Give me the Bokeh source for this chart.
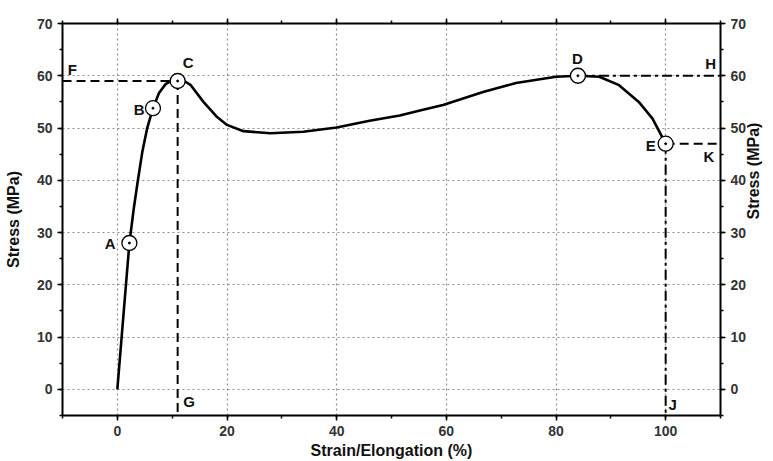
import math
from bokeh.plotting import figure
from bokeh.models import (Range1d, LinearAxis, SingleIntervalTicker, ColumnDataSource,
                          CustomJSTickFormatter)
from bokeh.embed import file_html
from bokeh.resources import INLINE
from bokeh.core.properties import value

# ---- data ----
strain = [0, 2.2, 3.0, 3.75, 4.55, 5.45, 6.5, 7.6, 8.8, 10.0, 11.0,
          12.2, 13.4, 15.7, 18.2, 20.0, 23.0, 27.9, 33.9, 40.0, 46.0, 51.5, 55.0,
          59.4, 66.7, 72.7, 80.0, 84.0, 87.9, 91.5, 95.1, 97.6, 100.0]
stress = [0, 28, 34.6, 40, 45.4, 50, 53.8, 56.7, 58.4, 59.1, 59.3,
          59.0, 58.2, 55.0, 52.1, 50.6, 49.4, 49.0, 49.3, 50.1, 51.4, 52.4, 53.3,
          54.4, 56.9, 58.6, 59.8, 60.0, 59.8, 58.2, 55.0, 51.8, 47.0]

pt_names = ["A", "B", "C", "D", "E"]
pt_strain = [2.2, 6.5, 11.0, 84.0, 100.0]
pt_stress = [28.0, 53.8, 59.0, 60.0, 47.0]

x_ticks_major = 20
y_ticks_major = 10
x_min, x_max = -10, 110
y_min, y_max = -5, 70

# label anchor positions (data units)
lbl_text = ["A", "B", "C", "D", "E", "F", "G", "H", "J", "K"]
lbl_x = [-1.3, 4.0, 12.9, 83.9, 97.3, -8.2, 13.1, 108.2, 101.3, 107.9]
lbl_y = [27.9, 53.6, 62.6, 63.3, 46.7, 61.2, -2.3, 62.4, -2.9, 44.6]

FONT = "Liberation Sans"

p = figure(width=773, height=461, output_backend="svg", toolbar_location=None,
           x_range=Range1d(x_min, x_max), y_range=Range1d(y_min, y_max),
           min_border_left=62, min_border_right=51, min_border_top=23,
           min_border_bottom=46, background_fill_color="white",
           border_fill_color="white")
p.outline_line_color = None

xt = SingleIntervalTicker(interval=x_ticks_major, num_minor_ticks=2)
yt = SingleIntervalTicker(interval=y_ticks_major, num_minor_ticks=2)


def style_axis(ax, show_labels=True):
    ax.axis_line_width = 2
    ax.axis_line_color = "black"
    ax.major_tick_line_width = 1.5
    ax.major_tick_line_color = "black"
    ax.minor_tick_line_width = 1.5
    ax.minor_tick_line_color = "black"
    ax.major_tick_in = 0
    ax.major_tick_out = 5
    ax.minor_tick_in = 0
    ax.minor_tick_out = 3
    ax.major_label_text_font = FONT
    ax.major_label_text_font_style = "bold"
    ax.major_label_text_color = "#333333"
    ax.major_label_text_font_size = "14px"
    ax.major_label_standoff = 5 if show_labels else 0
    ax.axis_label_text_font = FONT
    ax.axis_label_text_font_style = "bold"
    ax.axis_label_text_font_size = "16px"
    ax.axis_label_text_color = "#111111"


p.xaxis.ticker = xt
p.yaxis.ticker = yt
p.xaxis.axis_label = "Strain/Elongation (%)"
p.yaxis.axis_label = "Stress (MPa)"
style_axis(p.xaxis[0])
style_axis(p.yaxis[0])
p.xaxis.axis_label_standoff = 3
p.yaxis.axis_label_standoff = 12

top_ax = LinearAxis(ticker=xt, formatter=CustomJSTickFormatter(code="return ''"))
style_axis(top_ax, show_labels=False)
p.add_layout(top_ax, "above")

right_ax = LinearAxis(ticker=yt, axis_label="Stress (MPa)")
style_axis(right_ax)
right_ax.major_label_standoff = 5
right_ax.axis_label_standoff = 4
right_ax.axis_label_orientation = math.pi / 2
p.add_layout(right_ax, "right")

for g in (p.xgrid, p.ygrid):
    g.grid_line_color = "#8c8c8c"
    g.grid_line_dash = "2 3"
    g.grid_line_width = 1.2
p.xgrid.ticker = xt
p.ygrid.ticker = yt

# reference lines
xC, yC = pt_strain[2], pt_stress[2]
xD, yD = pt_strain[3], pt_stress[3]
xE, yE = pt_strain[4], pt_stress[4]
p.line([x_min, xC], [yC, yC], line_color="black", line_width=2, line_dash="9 5")
p.line([xC, xC], [yC, y_min], line_color="black", line_width=2, line_dash="9 5")
p.line([xD, x_max], [yD, yD], line_color="black", line_width=2, line_dash="10 4 3 4")
p.line([xE, x_max], [yE, yE], line_color="black", line_width=2, line_dash="9 5")
p.line([xE, xE], [yE, y_min], line_color="black", line_width=2, line_dash="10 4 3 4")

# curve
p.line(strain, stress, line_color="black", line_width=2.6, line_join="round")

# markers
src = ColumnDataSource(dict(x=pt_strain, y=pt_stress, name=pt_names))
p.scatter("x", "y", source=src, size=15, fill_color="white",
          line_color="black", line_width=1.3)
p.scatter("x", "y", source=src, size=2, fill_color="black", line_color="black")

# letters
lsrc = ColumnDataSource(dict(x=lbl_x, y=lbl_y, t=lbl_text))
p.text("x", "y", text="t", source=lsrc, text_font=value(FONT),
       text_font_style="bold", text_font_size="15px", text_align="center",
       text_baseline="middle", text_color="#111111")

open("out.html", "w").write(file_html(p, INLINE))
